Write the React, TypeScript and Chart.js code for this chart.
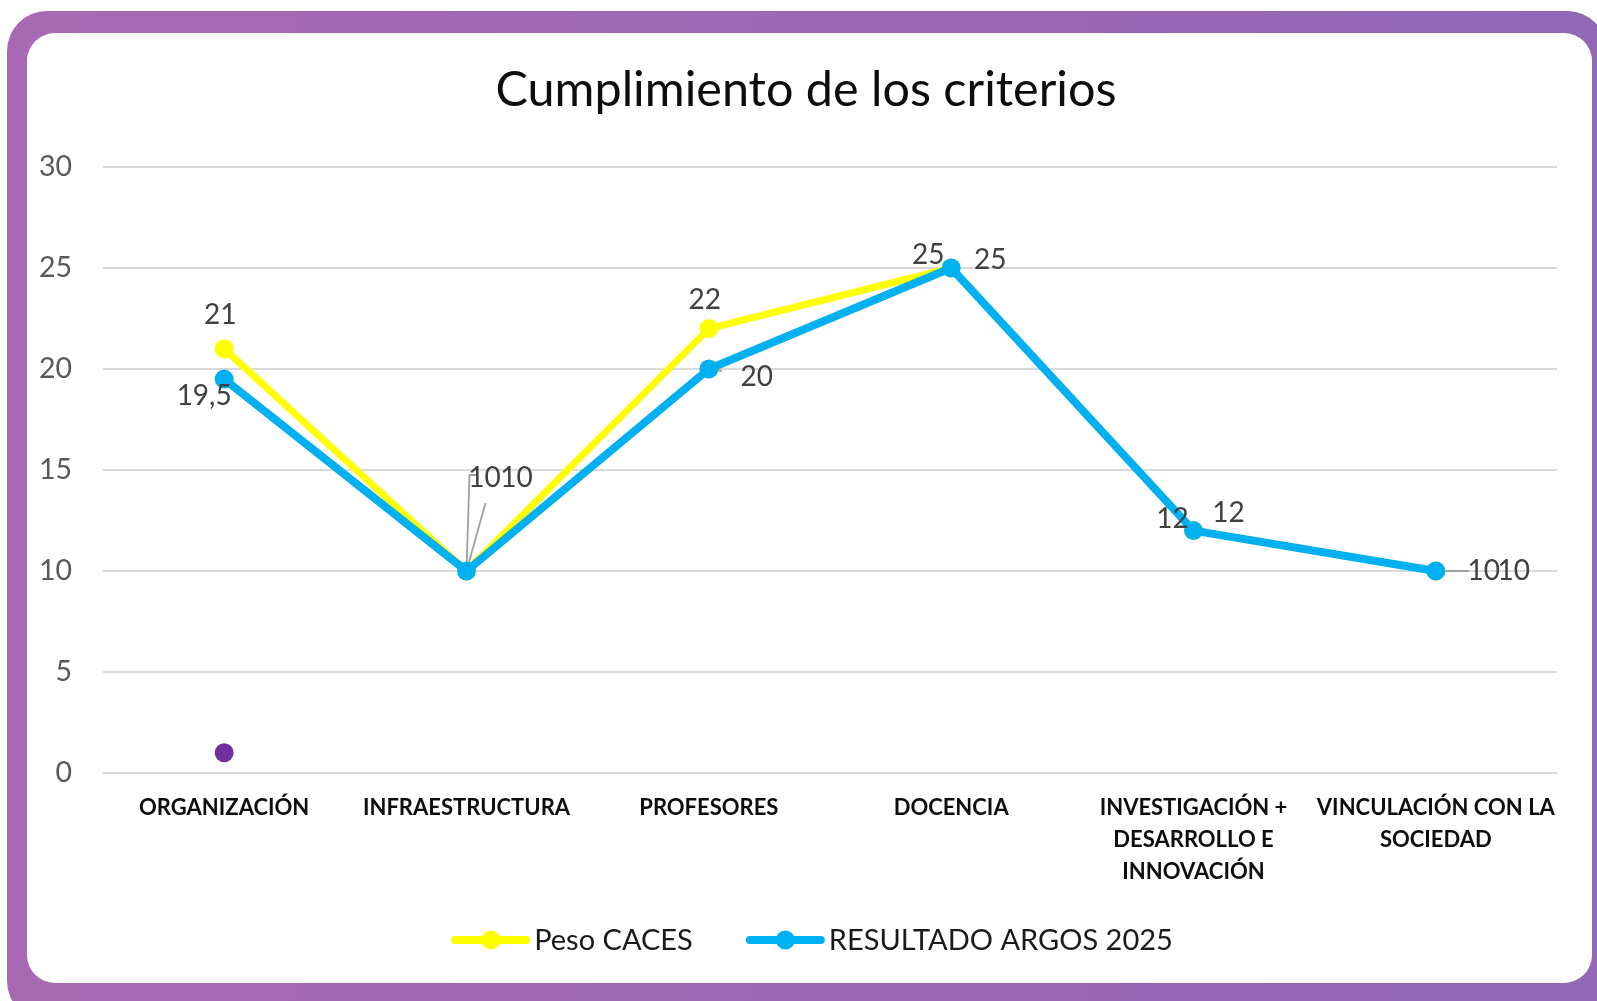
import React, { useEffect, useRef } from 'react';
import { Chart, registerables } from 'chart.js';

Chart.register(...registerables);

// ---------- DATA ----------
const categories: string[][] = [
  ['ORGANIZACIÓN'],
  ['INFRAESTRUCTURA'],
  ['PROFESORES'],
  ['DOCENCIA'],
  ['INVESTIGACIÓN +', 'DESARROLLO E', 'INNOVACIÓN'],
  ['VINCULACIÓN CON LA', 'SOCIEDAD'],
];
const pesoCaces = [21, 10, 22, 25, 12, 10];
const resultadoArgos = [19.5, 10, 20, 25, 12, 10];
const extraMarker = [1, null, null, null, null, null];
const seriesNames = ['Peso CACES', 'RESULTADO ARGOS 2025'];
const yMin = 0;
const yMax = 30;
const yStep = 5;
const chartTitle = 'Cumplimiento de los criterios';

// ---------- STYLE ----------
const FONT = 'Lato';
const COLORS = { peso: '#FFFF00', argos: '#00B0F0', extra: '#7030A0' };
const TITLE_STYLE = { size: 48.5, color: '#0d0d0d', centerX: 779, centerY: 57 };
// label offsets (dx, dy) relative to each point's pixel, and leader-line paths
const LABEL_STYLE: Record<number, { offsets: number[][]; leaders: (number[][] | null)[] }> = {
  0: {
    offsets: [[-4, -34], [18, -93], [-4, -29], [-23, -13], [-21, -12], [48, 0]],
    leaders: [null, [[0, 0], [3, -96], [11, -96]], null, null, null, [[0, 0], [33, 0]]],
  },
  1: {
    offsets: [[-20, 17], [50, -93], [48, 8], [39, -8], [35, -18], [78, 0]],
    leaders: [null, [[0, 0], [19, -68]], [[0, 0], [13, 2]], null, null, null],
  },
};

const fmt = (v: number) => String(v).replace('.', ',');

const labelsPlugin = {
  id: 'customLabels',
  beforeDatasetsDraw(chart: any) {
    const ctx = chart.ctx;
    ctx.save();
    ctx.strokeStyle = '#a0a0a0';
    ctx.lineWidth = 1.8;
    [0, 1].forEach((di) => {
      const meta = chart.getDatasetMeta(di);
      meta.data.forEach((pt: any, i: number) => {
        const path = LABEL_STYLE[di].leaders[i];
        if (!path) return;
        ctx.beginPath();
        path.forEach((p, k) => {
          if (k === 0) ctx.moveTo(pt.x + p[0], pt.y + p[1]);
          else ctx.lineTo(pt.x + p[0], pt.y + p[1]);
        });
        ctx.stroke();
      });
    });
    ctx.restore();
  },
  afterDatasetsDraw(chart: any) {
    const ctx = chart.ctx;
    ctx.save();
    ctx.font = `28px ${FONT}`;
    ctx.fillStyle = '#404040';
    ctx.textAlign = 'center';
    ctx.textBaseline = 'middle';
    [0, 1].forEach((di) => {
      const meta = chart.getDatasetMeta(di);
      const data = chart.data.datasets[di].data;
      meta.data.forEach((pt: any, i: number) => {
        const off = LABEL_STYLE[di].offsets[i];
        ctx.fillText(fmt(data[i]), pt.x + off[0], pt.y + off[1]);
      });
    });
    ctx.restore();
  },
  afterDraw(chart: any) {
    const ctx = chart.ctx;
    ctx.save();
    // title
    ctx.font = `${TITLE_STYLE.size}px ${FONT}`;
    ctx.fillStyle = TITLE_STYLE.color;
    ctx.textAlign = 'center';
    ctx.textBaseline = 'middle';
    ctx.fillText(chartTitle, TITLE_STYLE.centerX, TITLE_STYLE.centerY);

    // legend (only the two named series)
    ctx.font = `29px ${FONT}`;
    const lineLen = 77;
    const gapText = 5;
    const gapItem = 54;
    const items = [0, 1].map((di) => {
      const ds = chart.data.datasets[di];
      return { label: ds.label, color: ds.borderColor, w: ctx.measureText(ds.label).width };
    });
    const total = items.reduce((s, it) => s + lineLen + gapText + it.w, 0) + gapItem * (items.length - 1);
    let x = chart.width / 2 - total / 2 + 3;
    const y = chart.height - 43;
    items.forEach((it) => {
      ctx.strokeStyle = it.color;
      ctx.lineWidth = 8;
      ctx.lineCap = 'round';
      ctx.beginPath();
      ctx.moveTo(x + 3, y);
      ctx.lineTo(x + lineLen - 3, y);
      ctx.stroke();
      ctx.fillStyle = it.color;
      ctx.beginPath();
      ctx.arc(x + lineLen / 2, y, 9.5, 0, Math.PI * 2);
      ctx.fill();
      ctx.fillStyle = '#1a1a1a';
      ctx.textAlign = 'left';
      ctx.textBaseline = 'middle';
      ctx.fillText(it.label, x + lineLen + gapText, y + 1);
      x += lineLen + gapText + it.w + gapItem;
    });
    ctx.restore();
  },
};

export default function App() {
  const canvasRef = useRef<HTMLCanvasElement | null>(null);

  useEffect(() => {
    if (!canvasRef.current) return;
    const chart = new Chart(canvasRef.current, {
      type: 'line',
      data: {
        labels: categories,
        datasets: [
          {
            label: seriesNames[0],
            data: pesoCaces,
            borderColor: COLORS.peso,
            backgroundColor: COLORS.peso,
            borderWidth: 7,
            pointRadius: 9.5,
            pointBorderWidth: 0,
            pointBackgroundColor: COLORS.peso,
            borderJoinStyle: 'round',
            borderCapStyle: 'round',
            tension: 0,
            order: 2,
          },
          {
            label: seriesNames[1],
            data: resultadoArgos,
            borderColor: COLORS.argos,
            backgroundColor: COLORS.argos,
            borderWidth: 8,
            pointRadius: 9.5,
            pointBorderWidth: 0,
            pointBackgroundColor: COLORS.argos,
            borderJoinStyle: 'round',
            borderCapStyle: 'round',
            tension: 0,
            order: 1,
          },
          {
            label: '',
            data: extraMarker,
            borderColor: COLORS.extra,
            backgroundColor: COLORS.extra,
            showLine: false,
            pointRadius: 9.5,
            pointBorderWidth: 0,
            pointBackgroundColor: COLORS.extra,
            order: 0,
          },
        ],
      },
      options: {
        responsive: false,
        animation: false,
        events: [],
        layout: { padding: { left: 0, right: 35, top: 134, bottom: 0 } },
        plugins: {
          legend: { display: false },
          tooltip: { enabled: false },
          title: { display: false },
        },
        scales: {
          x: {
            offset: true,
            grid: { display: false, drawTicks: false },
            border: { display: false },
            ticks: {
              color: '#0d0d0d',
              font: { family: FONT, size: 22, weight: 'bold', lineHeight: 1.45 },
              padding: 19,
              maxRotation: 0,
              autoSkip: false,
            },
            afterFit: (s: any) => {
              s.height = 210;
            },
          },
          y: {
            min: yMin,
            max: yMax,
            ticks: {
              stepSize: yStep,
              color: '#595959',
              font: { family: FONT, size: 28.5 },
              padding: 31,
            },
            grid: { color: '#d9d9d9', lineWidth: 2, drawTicks: false },
            border: { display: false },
            afterFit: (s: any) => {
              s.width = 76;
            },
          },
        },
      } as any,
      plugins: [labelsPlugin],
    });
    return () => chart.destroy();
  }, []);

  return (
    <div
      style={{
        position: 'fixed',
        left: 0,
        top: 0,
        width: 1597,
        height: 1001,
        overflow: 'hidden',
        background: '#ffffff',
      }}
    >
      <div
        style={{
          position: 'absolute',
          left: 7,
          top: 11,
          width: 1600,
          height: 1010,
          borderRadius: 40,
          background: 'linear-gradient(90deg, #A868B4 0%, #9C68B5 50%, #9168B6 100%)',
        }}
      />
      <div
        style={{
          position: 'absolute',
          left: 27,
          top: 33,
          width: 1565,
          height: 950,
          borderRadius: 28,
          background: '#ffffff',
          overflow: 'hidden',
        }}
      >
        <canvas
          ref={canvasRef}
          width={1565}
          height={950}
          role="img"
          aria-label={chartTitle}
          style={{ display: 'block', width: 1565, height: 950 }}
        />
      </div>
    </div>
  );
}
